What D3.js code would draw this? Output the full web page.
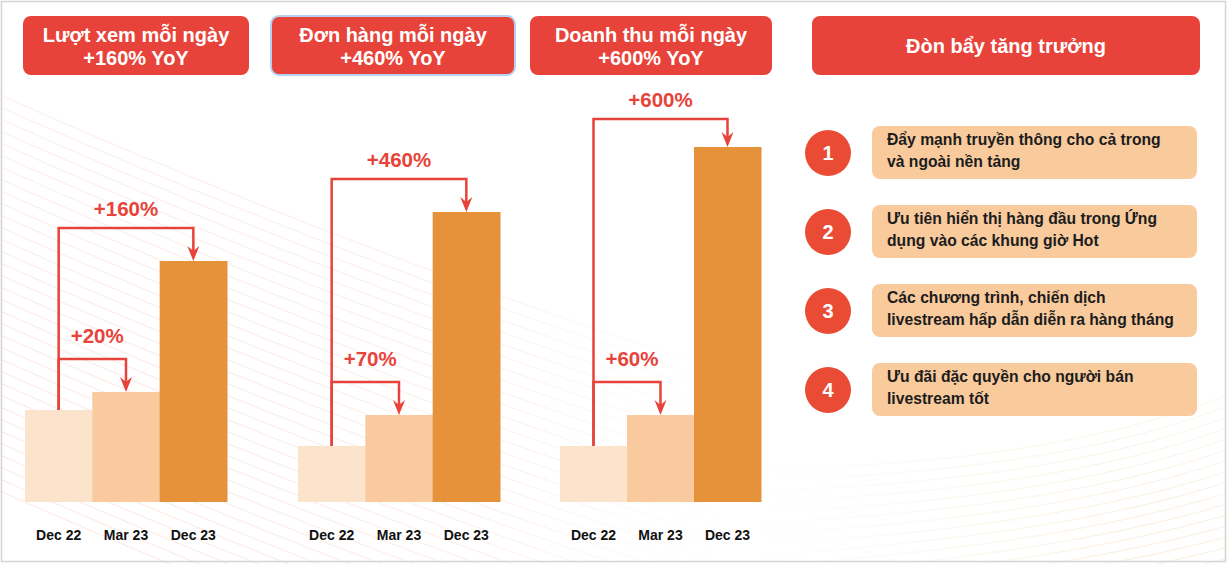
<!DOCTYPE html>
<html lang="vi">
<head>
  <meta charset="UTF-8">
  <title>Đòn bẩy tăng trưởng</title>
  <style>
    body {
      margin: 0;
      background: #fff;
      font-family: Arial, "Liberation Sans", sans-serif;
    }
    svg { display: block; }
    .head-text { fill: #fff; font-size: 20px; font-weight: bold; text-anchor: middle; }
    .gain { fill: #e8433a; font-size: 20.5px; font-weight: bold; }
    .tick-label { fill: #111; font-size: 14px; font-weight: bold; text-anchor: middle; }
    .lever-text { fill: #1c1c1c; font-size: 15.7px; font-weight: bold; }
    .bracket { fill: none; stroke: #e8433a; stroke-width: 2.5px; }
  </style>
</head>
<body>
  <svg id="chart" width="1228" height="564"></svg>
  <script src="https://d3js.org/d3.v7.min.js"></script>
  <script>
    // data (bar heights on a common index scale)
    const categories = ["Dec 22", "Mar 23", "Dec 23"];
    const panelTitles = [
      ["Lượt xem mỗi ngày", "+160% YoY"],
      ["Đơn hàng mỗi ngày", "+460% YoY"],
      ["Doanh thu mỗi ngày", "+600% YoY"]
    ];
    const viewsValues = [92, 110, 241];
    const ordersValues = [56, 87, 290];
    const revenueValues = [56, 87, 355];
    const shortGains = ["+20%", "+70%", "+60%"];
    const longGains = ["+160%", "+460%", "+600%"];
    const leverTitle = "Đòn bẩy tăng trưởng";
    const leverItems = [
      ["Đẩy mạnh truyền thông cho cả trong", "và ngoài nền tảng"],
      ["Ưu tiên hiển thị hàng đầu trong Ứng", "dụng vào các khung giờ Hot"],
      ["Các chương trình, chiến dịch", "livestream hấp dẫn diễn ra hàng tháng"],
      ["Ưu đãi đặc quyền cho người bán", "livestream tốt"]
    ];

    const seriesValues = [viewsValues, ordersValues, revenueValues];
    const barColors = ["#fbe4cb", "#f8ca9d", "#e5923a"];
    const red = "#e8433a";

    const svg = d3.select("#chart");
    const defs = svg.append("defs");

    // soft masks for the decorative background lines
    const rad = defs.append("radialGradient").attr("id", "fadeLeft")
      .attr("gradientUnits", "userSpaceOnUse")
      .attr("cx", 120).attr("cy", 470).attr("r", 620);
    rad.append("stop").attr("offset", "0").attr("stop-color", "#fff");
    rad.append("stop").attr("offset", "0.6").attr("stop-color", "#fff").attr("stop-opacity", 0.7);
    rad.append("stop").attr("offset", "1").attr("stop-color", "#fff").attr("stop-opacity", 0);
    defs.append("mask").attr("id", "maskLeft")
      .append("rect").attr("width", 1228).attr("height", 564).attr("fill", "url(#fadeLeft)");

    const rad2 = defs.append("radialGradient").attr("id", "fadeRight")
      .attr("gradientUnits", "userSpaceOnUse")
      .attr("cx", 1150).attr("cy", 560).attr("r", 420);
    rad2.append("stop").attr("offset", "0").attr("stop-color", "#fff");
    rad2.append("stop").attr("offset", "1").attr("stop-color", "#fff").attr("stop-opacity", 0);
    defs.append("mask").attr("id", "maskRight")
      .append("rect").attr("width", 1228).attr("height", 564).attr("fill", "url(#fadeRight)");

    // diagonal lines, left part
    const bgL = svg.append("g").attr("mask", "url(#maskLeft)")
      .attr("fill", "none").attr("stroke", "#fbd9d2").attr("stroke-width", 1.2)
      .attr("opacity", 0.55);
    d3.range(34).forEach(k => {
      const p = d3.path();
      const y0 = 95 + 12 * k;
      p.moveTo(0, y0);
      p.quadraticCurveTo(450, y0 + 200, 900, y0 + 330);
      bgL.append("path").attr("d", p.toString());
    });

    // arcs, bottom right
    const bgR = svg.append("g").attr("mask", "url(#maskRight)")
      .attr("fill", "none").attr("stroke", "#f9e6cc").attr("stroke-width", 1.2)
      .attr("opacity", 0.6);
    d3.range(16).forEach(k => {
      const p = d3.path();
      p.moveTo(700, 470 + 11 * k);
      p.quadraticCurveTo(1050, 470 + 9 * k, 1240, 390 + 11 * k);
      bgR.append("path").attr("d", p.toString());
    });

    // outer frame
    svg.append("rect")
      .attr("x", 1.5).attr("y", 1.5).attr("width", 1224).attr("height", 560)
      .attr("fill", "none").attr("stroke", "#d4d4d4").attr("stroke-width", 1.5);

    // panel layout
    const panels = [
      { head: [23, 249], bars: [25, 227] },
      { head: [271, 515], bars: [298, 500] },
      { head: [530, 772], bars: [560, 761] }
    ];

    const y = d3.scaleLinear().domain([0, 400]).range([502, 102]);

    // arrow head shape (tip at 0,0)
    const arrowHead = "M0,0 L-6,-15 L0,-10 L6,-15 Z";

    panels.forEach((pn, i) => {
      const g = svg.append("g");

      // header box
      g.append("rect")
        .attr("x", pn.head[0]).attr("y", 16)
        .attr("width", pn.head[1] - pn.head[0]).attr("height", 59)
        .attr("rx", 8)
        .attr("fill", red)
        .attr("stroke", i === 1 ? "#b7d1f2" : "none")
        .attr("stroke-width", 2);
      const cx = (pn.head[0] + pn.head[1]) / 2;
      panelTitles[i].forEach((t, j) => {
        g.append("text").attr("class", "head-text")
          .attr("x", cx).attr("y", 42 + j * 23).text(t);
      });

      const x = d3.scaleBand().domain(categories).range(pn.bars).padding(0);
      const vals = seriesValues[i];

      g.selectAll(".bar").data(categories).join("rect")
        .attr("class", "bar")
        .attr("x", d => x(d))
        .attr("y", (d, k) => y(vals[k]))
        .attr("width", x.bandwidth() + 0.5)
        .attr("height", (d, k) => y(0) - y(vals[k]))
        .attr("fill", (d, k) => barColors[k]);

      // category labels
      g.selectAll(".tick-label").data(categories).join("text")
        .attr("class", "tick-label")
        .attr("x", d => x(d) + x.bandwidth() / 2)
        .attr("y", 540)
        .text(d => d);

      // growth brackets
      const x0 = x(categories[0]) + x.bandwidth() / 2;
      const base = y(vals[0]);
      const targets = [
        { k: 1, label: shortGains[i], small: true },
        { k: 2, label: longGains[i], small: false }
      ];
      targets.forEach(tg => {
        const tx = x(categories[tg.k]) + x.bandwidth() / 2;
        const top = y(vals[tg.k]);
        const by = Math.max(top - 33, 119);
        const p = d3.path();
        p.moveTo(x0, base);
        p.lineTo(x0, by);
        p.lineTo(tx, by);
        p.lineTo(tx, top - 10);
        g.append("path").attr("class", "bracket").attr("d", p.toString());
        g.append("path")
          .attr("d", arrowHead)
          .attr("transform", `translate(${tx},${top})`)
          .attr("fill", red);
        if (tg.small) {
          g.append("text").attr("class", "gain")
            .attr("x", x0 + 12).attr("y", by - 23 + 7)
            .text(tg.label);
        } else {
          g.append("text").attr("class", "gain")
            .attr("x", (x0 + tx) / 2).attr("y", by - 19 + 7)
            .attr("text-anchor", "middle")
            .text(tg.label);
        }
      });
    });

    // right side: growth levers
    const rg = svg.append("g");
    rg.append("rect")
      .attr("x", 812).attr("y", 16).attr("width", 388).attr("height", 59)
      .attr("rx", 8).attr("fill", red);
    rg.append("text").attr("class", "head-text")
      .attr("x", 1006).attr("y", 53).text(leverTitle);

    const rowY = d3.scalePoint().domain(d3.range(leverItems.length)).range([153, 390]);

    const rows = rg.selectAll(".lever").data(leverItems).join("g")
      .attr("class", "lever")
      .attr("transform", (d, i) => `translate(0,${rowY(i)})`);

    rows.append("circle")
      .attr("cx", 828).attr("cy", 0).attr("r", 23)
      .attr("fill", "#ea4b34");
    rows.append("text")
      .attr("x", 828).attr("y", 7)
      .attr("text-anchor", "middle")
      .attr("fill", "#fff")
      .attr("font-size", 20).attr("font-weight", "bold")
      .text((d, i) => i + 1);
    rows.append("rect")
      .attr("x", 872).attr("y", -27).attr("width", 325).attr("height", 53)
      .attr("rx", 8).attr("fill", "#f8ca9c");
    rows.each(function(d) {
      d3.select(this).selectAll("text.lever-text").data(d).join("text")
        .attr("class", "lever-text")
        .attr("x", 887)
        .attr("y", (t, j) => -8 + j * 22)
        .text(t => t);
    });
  </script>
</body>
</html>
